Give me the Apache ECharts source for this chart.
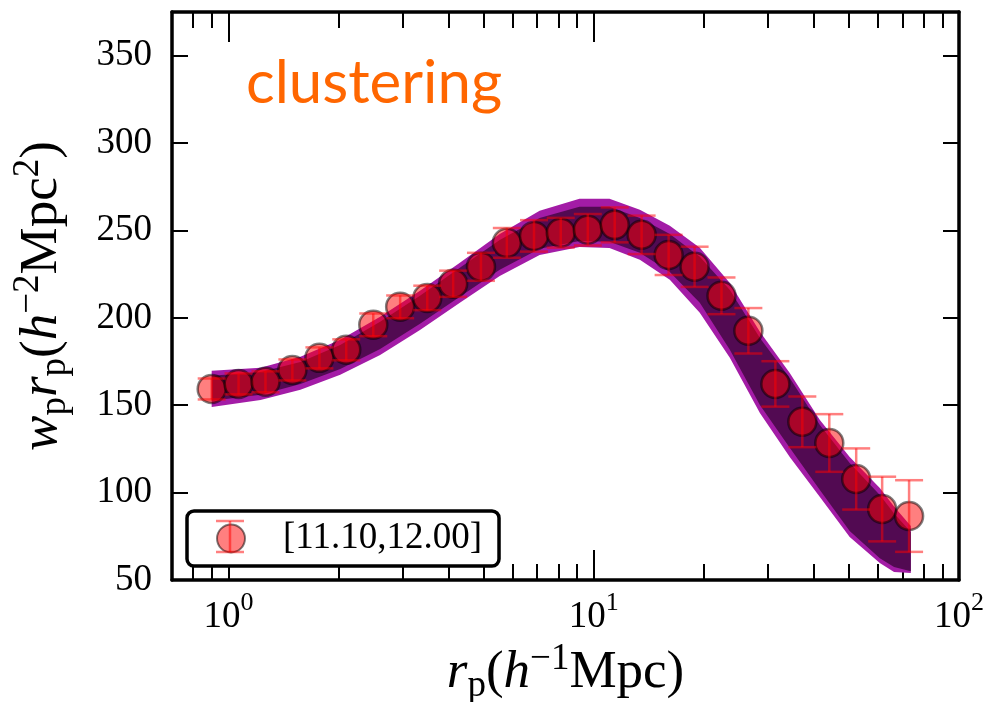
<!DOCTYPE html>
<html><head><meta charset="utf-8">
<script src="https://cdn.jsdelivr.net/npm/echarts@6/dist/echarts.min.js"></script>
<style>html,body{margin:0;padding:0;background:#fff}#c{width:987px;height:702px}</style>
</head><body><div id="c"></div>
<script>
// ---- data ----
const seriesName = '[11.10,12.00]';
const rp = [0.899,1.065,1.262,1.495,1.773,2.10,2.49,2.95,3.50,4.12,4.91,5.78,6.86,8.12,9.63,11.41,13.52,16.03,18.88,22.37,26.50,31.42,37.24,44.14,52.3,61.6,73.0];
const wprp = [159.3,162.2,163.4,170.2,177.1,181.7,196.0,206.3,211.4,219.5,229.2,242.9,246.9,248.7,250.4,253.2,247.5,236.0,229.2,212.6,192.6,162.2,140.5,128.4,107.8,90.6,86.6];
const wprpErr = [6,6,6,6,6,6,6.5,6.5,7,7.5,8,8.5,9,8.5,9,10,11,11.5,11.5,10.5,13,13,14.5,16.5,17.5,18.5,20.5];

const bandR   = [0.899,1.223,1.573,2.022,2.600,3.343,4.298,5.527,7.107,9.137,11.04,13.37,16.15,19.51,23.58,28.5,34.4,41.6,50.2,60.7,66.4,73.8];
const outerLo = [149,153,158.8,167.4,178.8,193.1,208.6,224,236,240.6,240,233.2,221.8,202.9,177.1,145.6,120.4,97.5,74.6,59.7,54.6,54];
const innerLo = [152.5,156,162.2,170.8,182.2,196.6,212,227.5,239.5,244,243.5,237.2,226.3,208.6,181.7,150.2,125.6,101.5,78,62.5,57.4,55];
const innerHi = [166.8,169,174.8,184.5,197.7,212.6,228.6,244.6,257.2,263.5,263.5,257.2,248,234.9,216,188.5,165.6,138.7,117,98.7,88,77.5];
const outerHi = [169.7,171.4,177.7,187.4,200.6,215.5,231.5,248,261.3,268.1,268.1,261.8,252.7,240.1,220,192,168.5,141.6,120.4,102.7,92,80.9];

const xMajorTicks = [1, 10, 100];
const xMinorTicks = [0.8,0.9,2,3,4,5,6,7,8,9,20,30,40,50,60,70,80,90];
const yMin = 50, yMax = 375, yStep = 50;
const xMin = 0.7, xMax = 100;

// ---- chart ----
const SERIF = 'Liberation Serif';
const chart = echarts.init(document.getElementById('c'), null, {renderer: 'canvas'});

function bandSeries(lo, hi, color, z) {
  const data = bandR.map((r, i) => [r, lo[i], hi[i]]);
  return {
    type: 'custom', z: z, silent: true,
    encode: {x: 0, y: [1, 2]},
    data: data,
    renderItem: function (params, api) {
      if (params.dataIndex !== 0) return null;
      const pts = [];
      for (let i = 0; i < data.length; i++) pts.push(api.coord([data[i][0], data[i][2]]));
      for (let i = data.length - 1; i >= 0; i--) pts.push(api.coord([data[i][0], data[i][1]]));
      return {type: 'polygon', shape: {points: pts}, style: {fill: color, stroke: null}};
    }
  };
}

const ebColor = 'rgba(255,0,0,0.5)';
const capHalf = 14;

const supRich = {
  n: {fontFamily: SERIF, fontSize: 37, color: '#000', lineHeight: 46, verticalAlign: 'bottom'},
  sup: {fontFamily: SERIF, fontSize: 26, color: '#000', lineHeight: 26, verticalAlign: 'top'}
};
const nameRich = {
  i: {fontFamily: SERIF, fontStyle: 'italic', fontSize: 53, color: '#000', lineHeight: 64},
  n: {fontFamily: SERIF, fontSize: 53, color: '#000', lineHeight: 64},
  sub: {fontFamily: SERIF, fontSize: 37, color: '#000', lineHeight: 29, verticalAlign: 'bottom'},
  sup: {fontFamily: SERIF, fontSize: 37, color: '#000', lineHeight: 33, verticalAlign: 'top'}
};

function logAxis(pos, major, withLabel) {
  return {
    type: 'log', logBase: 10, min: xMin, max: xMax, position: pos,
    axisLine: {show: major, onZero: false, lineStyle: {color: '#000', width: 3.5}},
    axisTick: {show: true, inside: true, length: major ? 30 : 16,
      customValues: major ? xMajorTicks : xMinorTicks,
      lineStyle: {color: '#000', width: 2}},
    axisLabel: withLabel ? {
      show: true, customValues: xMajorTicks, margin: 10,
      formatter: v => '{n|10}{sup|' + Math.round(Math.log10(v)) + '}',
      rich: supRich
    } : {show: false},
    splitLine: {show: false}, minorTick: {show: false}, minorSplitLine: {show: false},
    name: withLabel ? '{i|r}{sub|p}{n|(}{i|h}{sup|−1}{n|Mpc)}' : '',
    nameLocation: 'middle', nameGap: 60,
    nameTextStyle: {rich: nameRich}
  };
}

const option = {
  animation: false,
  backgroundColor: '#fff',
  title: {
    text: 'clustering', left: 241, top: 49,
    textStyle: {color: '#ff6600', fontFamily: 'Lato', fontSize: 60, fontWeight: 'normal'}
  },
  grid: {left: 172, right: 28, top: 12, bottom: 122, containLabel: false, outerBoundsMode: 'none'},
  xAxis: [
    logAxis('bottom', true, true),
    logAxis('bottom', false, false),
    logAxis('top', true, false),
    logAxis('top', false, false)
  ],
  yAxis: [
    {
      type: 'value', min: yMin, max: yMax, interval: yStep, position: 'left',
      axisLine: {show: true, onZero: false, lineStyle: {color: '#000', width: 3.5}},
      axisTick: {show: true, inside: true, length: 16, lineStyle: {color: '#000', width: 2}},
      axisLabel: {show: true, showMaxLabel: false, margin: 20, fontFamily: SERIF, fontSize: 37, color: '#000'},
      splitLine: {show: false},
      name: '{i|w}{sub|p}{i|r}{sub|p}{n|(}{i|h}{sup|−2}{n|Mpc}{sup|2}{n|)}',
      nameLocation: 'middle', nameRotate: 90, nameGap: 98,
      nameTextStyle: {rich: nameRich}
    },
    {
      type: 'value', min: yMin, max: yMax, interval: yStep, position: 'right',
      axisLine: {show: true, onZero: false, lineStyle: {color: '#000', width: 3.5}},
      axisTick: {show: true, inside: true, length: 16, lineStyle: {color: '#000', width: 2}},
      axisLabel: {show: false}, splitLine: {show: false}
    }
  ],
  legend: {
    show: true, left: 187, top: 511, orient: 'horizontal', z: 5,
    data: [seriesName], icon: 'circle', itemWidth: 28, itemHeight: 28,
    padding: [9, 17, 9, 29],
    backgroundColor: '#fff', borderColor: '#000', borderWidth: 3.5, borderRadius: 7,
    textStyle: {fontFamily: SERIF, fontSize: 37, color: '#000', padding: [0, 0, 0, 33]},
    selectedMode: false
  },
  series: [
    bandSeries(outerLo, outerHi, '#a31ca6', 1),
    bandSeries(innerLo, innerHi, '#520a52', 2),
    {
      type: 'scatter', name: seriesName, z: 3,
      data: rp.map((r, i) => [r, wprp[i]]),
      symbol: 'circle', symbolSize: 28,
      itemStyle: {color: 'rgba(255,0,0,0.5)', borderColor: 'rgba(0,0,0,0.5)', borderWidth: 2.5, opacity: 1}
    },
    {
      type: 'custom', z: 4, silent: true,
      encode: {x: 0, y: 1},
      data: rp.map((r, i) => [r, wprp[i], wprpErr[i]]),
      renderItem: function (params, api) {
        const x = api.value(0), y = api.value(1), e = api.value(2);
        const t = api.coord([x, y + e]), b = api.coord([x, y - e]);
        const st = {stroke: ebColor, lineWidth: 2.5};
        return {type: 'group', children: [
          {type: 'line', shape: {x1: t[0], y1: t[1], x2: b[0], y2: b[1]}, style: st},
          {type: 'line', shape: {x1: t[0] - capHalf, y1: t[1], x2: t[0] + capHalf, y2: t[1]}, style: st},
          {type: 'line', shape: {x1: b[0] - capHalf, y1: b[1], x2: b[0] + capHalf, y2: b[1]}, style: st}
        ]};
      }
    }
  ],
  graphic: [
    {type: 'line', z: 300, zlevel: 0, shape: {x1: 230, y1: 521, x2: 230, y2: 552}, style: {stroke: ebColor, lineWidth: 2.5}},
    {type: 'line', z: 300, zlevel: 0, shape: {x1: 216, y1: 521, x2: 244, y2: 521}, style: {stroke: ebColor, lineWidth: 2.5}},
    {type: 'line', z: 300, zlevel: 0, shape: {x1: 216, y1: 552, x2: 244, y2: 552}, style: {stroke: ebColor, lineWidth: 2.5}}
  ]
};
chart.setOption(option);
</script>
</body></html>
